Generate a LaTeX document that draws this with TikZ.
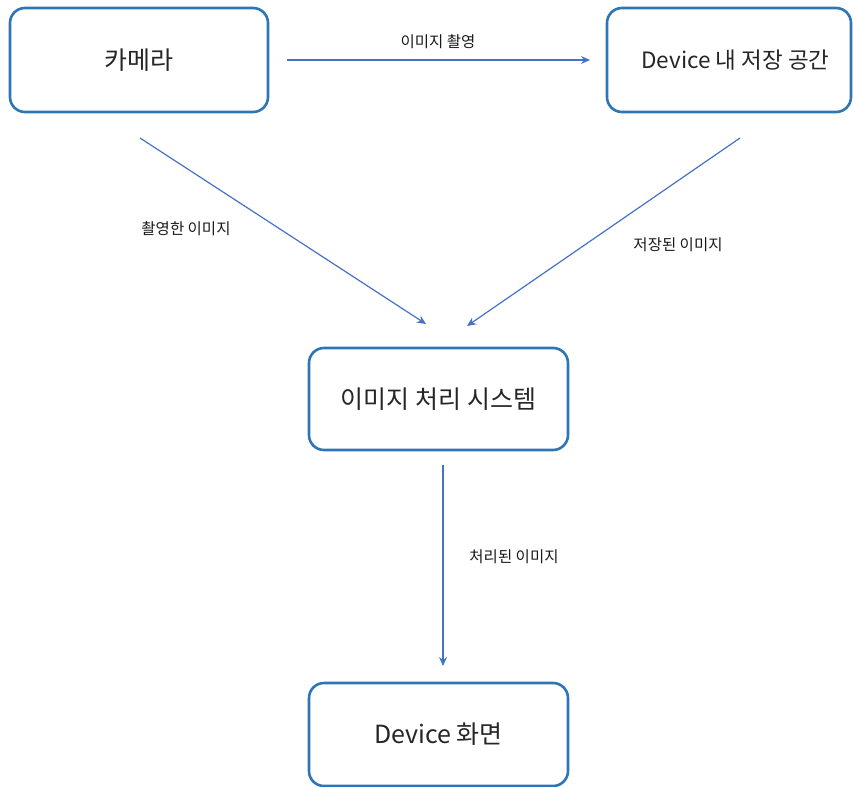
\documentclass[tikz,border=0pt]{standalone}
\usepackage{fontspec}
\setmainfont{Noto Sans CJK KR}
\usetikzlibrary{arrows.meta}
\definecolor{boxblue}{HTML}{2E75B6}
\definecolor{arrblue}{HTML}{4472C4}
\tikzset{
  box/.style={draw=boxblue, line width=2.6pt, rounded corners=15pt, fill=white,
    rectangle, inner sep=0pt, font=\fontsize{25}{30}\selectfont, text=black!85},
  conn/.style={draw=arrblue, line width=1.2pt, -{Stealth[length=9pt,width=8pt]}},
  lbl/.style={font=\fontsize{15.5}{18}\selectfont, text=black!90}
}
\begin{document}
\begin{tikzpicture}[x=1pt,y=-1pt]
\useasboundingbox (0,0) rectangle (854,787);
\node[box, minimum width=258pt, minimum height=104pt] (cam) at (139,60) {카메라};
\node[box, minimum width=244pt, minimum height=104pt, font=\fontsize{22.5}{27}\selectfont] (dev) at (729,60) {\hspace*{13pt}Device 내 저장 공간};
\node[box, minimum width=259pt, minimum height=102pt] (proc) at (438.5,399) {이미지 처리 시스템};
\node[box, minimum width=259pt, minimum height=103pt] (scr) at (438.5,734.5) {Device 화면};
\coordinate (a1s) at (287,60);
\coordinate (a1e) at (590,60);
\coordinate (a2s) at (140,138);
\coordinate (a2e) at (426,324);
\coordinate (a3s) at (740,138);
\coordinate (a3e) at (467,326);
\coordinate (a4s) at (443,465);
\coordinate (a4e) at (443,666);
\draw[conn] (a1s) -- (a1e);
\draw[conn] (a2s) -- (a2e);
\draw[conn] (a3s) -- (a3e);
\draw[conn] (a4s) -- (a4e);
\node[lbl] (l1) at (438,42) {이미지 촬영};
\node[lbl] (l2) at (186,229) {촬영한 이미지};
\node[lbl] (l3) at (678,245) {저장된 이미지};
\node[lbl] (l4) at (514,557) {처리된 이미지};
\end{tikzpicture}
\end{document}
